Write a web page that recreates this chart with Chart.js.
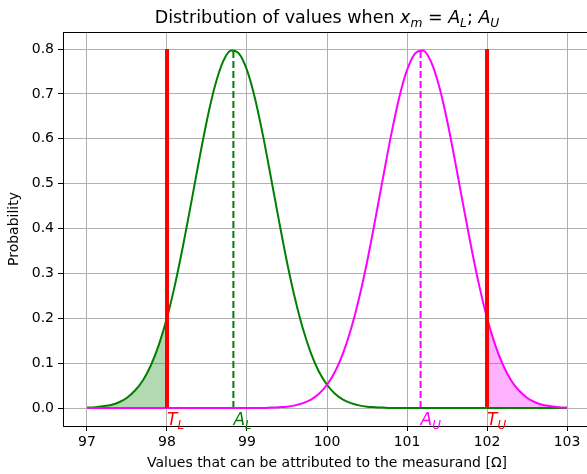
<!DOCTYPE html>
<html>
<head>
<meta charset="utf-8">
<script src="https://cdn.jsdelivr.net/npm/chart.js@4.4.1/dist/chart.umd.min.js"></script>
<style>
  html, body { margin: 0; padding: 0; background: #fff; overflow: hidden; }
  canvas { display: block; }
</style>
</head>
<body>
<canvas id="distChart" width="600" height="474"></canvas>
<script>
// x grid of the curves (measurand values)
const xValues = [97.0,97.1,97.2,97.3,97.4,97.5,97.6,97.7,97.8,97.9,
  98.0,98.1,98.2,98.3,98.4,98.5,98.6,98.7,98.8,98.9,
  99.0,99.1,99.2,99.3,99.4,99.5,99.6,99.7,99.8,99.9,
  100.0,100.1,100.2,100.3,100.4,100.5,100.6,100.7,100.8,100.9,
  101.0,101.1,101.2,101.3,101.4,101.5,101.6,101.7,101.8,101.9,
  102.0,102.1,102.2,102.3,102.4,102.5,102.6,102.7,102.8,102.9,103.0];

// green curve, x_m = A_L
const lowerCurve = [0.001,0.002,0.004,0.007,0.013,0.023,0.039,0.062,0.096,0.142,
  0.201,0.275,0.361,0.455,0.551,0.642,0.718,0.772,0.797,0.790,
  0.753,0.690,0.607,0.513,0.417,0.325,0.244,0.176,0.122,0.081,
  0.052,0.032,0.019,0.011,0.006,0.003,0.002,0.001,0,0,
  0,0,0,0,0,0,0,0,0,0,
  0,0,0,0,0,0,0,0,0,0,0];

// magenta curve, x_m = A_U
const upperCurve = [0,0,0,0,0,0,0,0,0,0,
  0,0,0,0,0,0,0,0,0,0,
  0,0,0,0.001,0.002,0.003,0.006,0.011,0.019,0.032,
  0.052,0.081,0.122,0.176,0.244,0.325,0.417,0.513,0.607,0.690,
  0.753,0.790,0.797,0.772,0.718,0.642,0.551,0.455,0.361,0.275,
  0.201,0.142,0.096,0.062,0.039,0.023,0.013,0.007,0.004,0.002,0.001];

const tolerance = [98, 102];      // T_L, T_U
const acceptance = [98.83, 101.17]; // A_L, A_U
const peakValue = 0.8;

const xTicks = [97, 98, 99, 100, 101, 102, 103];
const yTicks = [0, 0.1, 0.2, 0.3, 0.4, 0.5, 0.6, 0.7, 0.8];

const pts = (xs, ys) => xs.map((x, i) => ({ x: x, y: ys[i] }));
const vline = (x) => [{ x: x, y: 0 }, { x: x, y: peakValue }];

const FONT = '"DejaVu Sans", sans-serif';

// draw text pieces with italic letters and subscripts
function drawMath(ctx, parts, x, y, size, align) {
  const widths = parts.map(p => {
    ctx.font = (p.it ? 'italic ' : '') + (p.sub ? size * 0.7 : size) + 'px ' + FONT;
    return ctx.measureText(p.t).width;
  });
  const total = widths.reduce((a, b) => a + b, 0);
  let cx = align === 'center' ? x - total / 2 : x;
  ctx.textBaseline = 'alphabetic';
  ctx.textAlign = 'left';
  parts.forEach((p, i) => {
    ctx.font = (p.it ? 'italic ' : '') + (p.sub ? size * 0.7 : size) + 'px ' + FONT;
    ctx.fillText(p.t, cx, p.sub ? y + size * 0.22 : y);
    cx += widths[i];
  });
}

const decorPlugin = {
  id: 'decor',
  afterDraw(chart) {
    const { ctx, chartArea, scales } = chart;
    ctx.save();
    // box around the axes
    ctx.strokeStyle = '#000';
    ctx.lineWidth = 1;
    ctx.strokeRect(chartArea.left + 0.5, chartArea.top + 0.5,
      chartArea.right - chartArea.left, chartArea.bottom - chartArea.top);

    // title
    ctx.fillStyle = '#000';
    drawMath(ctx, [
      { t: 'Distribution of values when ' },
      { t: 'x', it: true }, { t: 'm', it: true, sub: true },
      { t: ' = ' },
      { t: 'A', it: true }, { t: 'L', it: true, sub: true },
      { t: '; ' },
      { t: 'A', it: true }, { t: 'U', it: true, sub: true }
    ], (chartArea.left + chartArea.right) / 2, 23, 17.5, 'center');

    // marker labels under the curves
    const y0 = scales.y.getPixelForValue(0) + 17;
    const labels = [
      { x: tolerance[0], t: 'T', s: 'L', c: '#ff0000' },
      { x: acceptance[0], t: 'A', s: 'L', c: '#008000' },
      { x: acceptance[1], t: 'A', s: 'U', c: '#ff00ff' },
      { x: tolerance[1], t: 'T', s: 'U', c: '#ff0000' }
    ];
    labels.forEach(l => {
      ctx.fillStyle = l.c;
      drawMath(ctx, [{ t: l.t, it: true }, { t: l.s, it: true, sub: true }],
        scales.x.getPixelForValue(l.x), y0, 17, 'left');
    });
    ctx.restore();
  }
};

const ctx = document.getElementById('distChart').getContext('2d');
new Chart(ctx, {
  type: 'line',
  data: {
    datasets: [
      { data: vline(tolerance[0]), borderColor: '#ff0000', borderWidth: 4, pointRadius: 0, order: 1 },
      { data: vline(tolerance[1]), borderColor: '#ff0000', borderWidth: 4, pointRadius: 0, order: 1 },
      { data: pts(xValues, upperCurve), borderColor: '#ff00ff', borderWidth: 2, pointRadius: 0,
        cubicInterpolationMode: 'monotone', order: 2 },
      { data: pts(xValues, lowerCurve), borderColor: '#008000', borderWidth: 2, pointRadius: 0,
        cubicInterpolationMode: 'monotone', order: 3 },
      { data: vline(acceptance[0]), borderColor: '#008000', borderWidth: 2, borderDash: [7, 3], pointRadius: 0, order: 4 },
      { data: vline(acceptance[1]), borderColor: '#ff00ff', borderWidth: 2, borderDash: [7, 3], pointRadius: 0, order: 4 },
      { data: pts(xValues.slice(0, 11), lowerCurve.slice(0, 11)), borderWidth: 0, pointRadius: 0,
        fill: 'origin', backgroundColor: 'rgba(0, 128, 0, 0.3)', cubicInterpolationMode: 'monotone', order: 5 },
      { data: pts(xValues.slice(50), upperCurve.slice(50)), borderWidth: 0, pointRadius: 0,
        fill: 'origin', backgroundColor: 'rgba(255, 0, 255, 0.3)', cubicInterpolationMode: 'monotone', order: 5 }
    ]
  },
  options: {
    responsive: false,
    animation: false,
    layout: { padding: { top: 32, right: 9, left: 0, bottom: 0 } },
    plugins: {
      legend: { display: false },
      title: { display: false },
      tooltip: { enabled: false }
    },
    scales: {
      x: {
        type: 'linear',
        min: 96.7,
        max: 103.3,
        afterBuildTicks: (scale) => { scale.ticks = xTicks.map(v => ({ value: v })); },
        afterFit: (scale) => { scale.height = 48; },
        ticks: { color: '#000', font: { family: FONT, size: 14 }, padding: 3, maxRotation: 0 },
        grid: { color: '#b0b0b0', lineWidth: 1, tickColor: '#000', tickLength: 5 },
        border: { color: '#000', width: 1 },
        title: {
          display: true,
          text: 'Values that can be attributed to the measurand [Ω]',
          color: '#000',
          font: { family: FONT, size: 14 },
          padding: { top: 0, bottom: 2 }
        }
      },
      y: {
        type: 'linear',
        min: -0.04,
        max: 0.838,
        afterBuildTicks: (scale) => { scale.ticks = yTicks.map(v => ({ value: v })); },
        afterFit: (scale) => { scale.width = 63; },
        ticks: { color: '#000', font: { family: FONT, size: 14 }, padding: 4,
          callback: (v) => v.toFixed(1) },
        grid: { color: '#b0b0b0', lineWidth: 1, tickColor: '#000', tickLength: 5 },
        border: { color: '#000', width: 1 },
        title: {
          display: true,
          text: 'Probability',
          color: '#000',
          font: { family: FONT, size: 14 },
          padding: { top: 6, bottom: 4 }
        }
      }
    }
  },
  plugins: [decorPlugin]
});
</script>
</body>
</html>
